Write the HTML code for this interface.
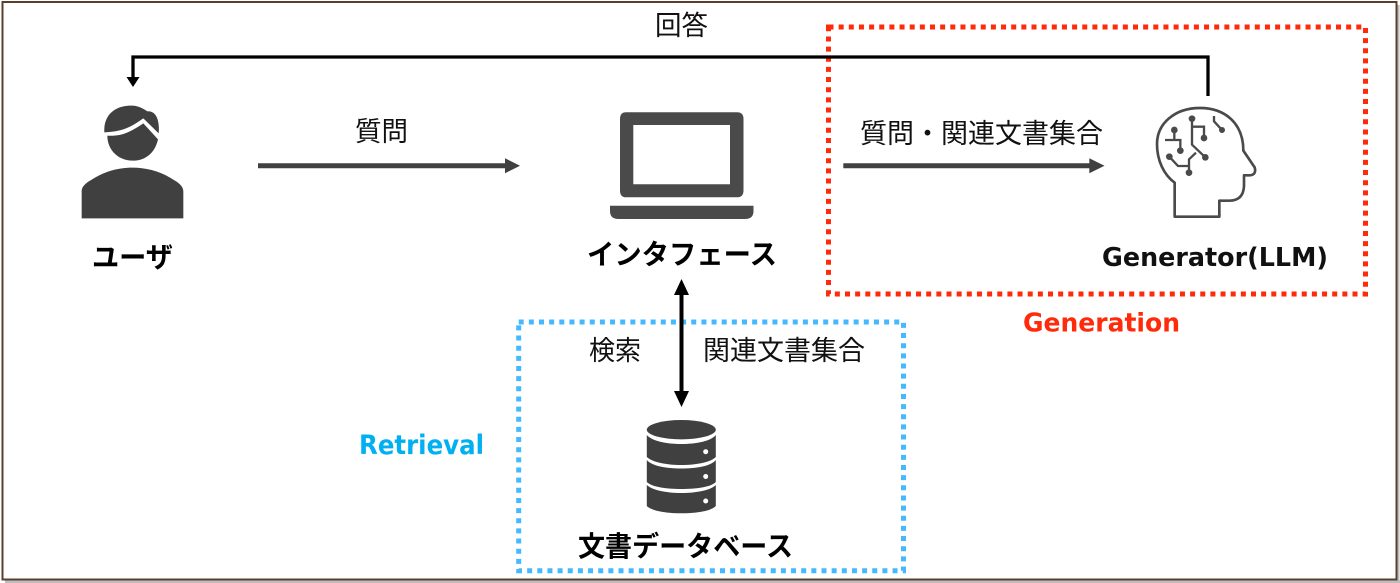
<!DOCTYPE html>
<html><head><meta charset="utf-8"><style>
html,body{margin:0;padding:0;background:#fff}
svg{display:block}
text{font-family:"Liberation Sans","Noto Sans CJK JP",sans-serif;fill:#111}
.b{font-weight:700;fill:#000}
.l{font-family:"DejaVu Sans","Noto Sans CJK JP",sans-serif;font-weight:700}
</style></head><body>
<svg width="1400" height="583" viewBox="0 0 1400 583" xmlns="http://www.w3.org/2000/svg">
<rect width="1400" height="583" fill="#fff"/>
<path d="M1398 5V583M5 581.500H1400" stroke="#bdbdbd" stroke-width="3" fill="none"/>
<rect x="2.500" y="2" width="1394" height="577.500" fill="#fff" stroke="#5a3f2c" stroke-width="2"/>

<rect x="828.500" y="27" width="537" height="267" fill="none" stroke="#ff2a0a" stroke-width="5" stroke-dasharray="5 5.150"/>
<rect x="518.700" y="322" width="384.800" height="248.700" fill="none" stroke="#45b9ff" stroke-width="5" stroke-dasharray="5 5.150"/>

<!-- connectors -->
<path d="M1208 96V57H133V78" fill="none" stroke="#000" stroke-width="3.300"/>
<path d="M126.500 77H139.500L133 87Z" fill="#000"/>
<path d="M258 165.700H506" stroke="#404040" stroke-width="5"/>
<path d="M505 158.200L520 165.700L505 173.200Z" fill="#404040"/>
<path d="M843.300 165.700H1090" stroke="#404040" stroke-width="5"/>
<path d="M1089.300 158.200L1104.500 165.700L1089.300 173.200Z" fill="#404040"/>
<path d="M681.500 290V397" stroke="#000" stroke-width="4"/>
<path d="M674 295L681.500 279L689 295ZM674 391L681.500 407L689 391Z" fill="#000"/>

<!-- user -->
<g transform="translate(60 40) scale(.33333)" fill="#404040">
<path d="M133 277C130 225 165 195 218 197C240 198 255 210 262 214C285 212 300 235 296 280L250 235C220 255 195 275 133 277Z"/>
<path d="M142 287C190 290 220 270 250 250L294 298C285 340 255 362 218 362C175 362 142 330 142 287Z"/>
<path d="M65 535V455C65 435 85 425 105 413C140 392 180 383 218 383C255 383 295 392 330 413C350 425 370 435 370 455V535Z"/>
</g>

<!-- laptop -->
<path fill-rule="evenodd" fill="#4a4a4a" d="M626 112.300H737Q743.500 112.300 743.500 119V190.500Q743.500 197.300 737 197.300H626Q620 197.300 620 190.500V119Q620 112.300 626 112.300ZM633.300 125V184.300H730V125Z"/>
<path fill="#4a4a4a" d="M610 205.700H753.500V211Q753.500 219 745 219H618.500Q610 219 610 211Z"/>

<!-- brain head -->
<g transform="translate(1090 80) scale(.33333)">
<path d="M254 410V308C222 285 201 242 201 192C201 130 255 84 330 84C405 84 460 130 460 212L494 262Q500 284 480 286H462V318Q460 362 418 362H388V410Z" fill="none" stroke="#4a4a4a" stroke-width="8" stroke-linejoin="round"/>
<g fill="none" stroke="#4a4a4a" stroke-width="7">
<path d="M253 150V180M225 180H271V212"/>
<path d="M306 116V194L346 232M306 140H342V174"/>
<path d="M372 108V124L396 150"/>
<path d="M238 230L264 258H296M318 218L297 238V278"/>
</g>
<g fill="#4a4a4a">
<circle cx="253" cy="150" r="10"/><circle cx="271" cy="212" r="10"/><circle cx="306" cy="116" r="10"/>
<circle cx="342" cy="174" r="10"/><circle cx="396" cy="150" r="9"/><circle cx="346" cy="232" r="10"/>
<circle cx="238" cy="230" r="10"/><circle cx="297" cy="278" r="10"/>
</g>
</g>

<!-- database -->
<g fill="#404040">
<ellipse cx="681.300" cy="429.700" rx="34.500" ry="9.700"/>
<path d="M646.800 435C652 441 666 444 681.300 444C697 444 711 441 715.800 435V457C711 462 697 465 681.300 465C666 465 652 462 646.800 457Z"/>
<path d="M646.800 460C652 466 666 468.500 681.300 468.500C697 468.500 711 466 715.800 460V482C711 487 697 489 681.300 489C666 489 652 487 646.800 482Z"/>
<path d="M646.800 485C652 490 666 493 681.300 493C697 493 711 490 715.800 485V506C711 511 697 513.300 681.300 513.300C666 513.300 652 511 646.800 506Z"/>
</g>
<g fill="#fff"><circle cx="705.700" cy="451.700" r="2.500"/><circle cx="705.700" cy="476.500" r="2.500"/><circle cx="705.700" cy="501" r="2.500"/></g>

<!-- labels -->
<g font-size="27">
<text x="655" y="35" textLength="53" lengthAdjust="spacingAndGlyphs">回答</text>
<text x="355" y="141" textLength="53" lengthAdjust="spacingAndGlyphs">質問</text>
<text x="860" y="143" textLength="243" lengthAdjust="spacingAndGlyphs">質問・関連文書集合</text>
<text x="589" y="360" textLength="52" lengthAdjust="spacingAndGlyphs">検索</text>
<text x="703" y="360" textLength="162" lengthAdjust="spacingAndGlyphs">関連文書集合</text>
</g>
<g font-size="28">
<text class="b" x="92" y="267" textLength="81" lengthAdjust="spacingAndGlyphs">ユーザ</text>
<text class="b" x="587" y="264" textLength="190" lengthAdjust="spacingAndGlyphs">インタフェース</text>
<text class="b" x="578" y="556" textLength="215" lengthAdjust="spacingAndGlyphs">文書データベース</text>
</g>
<text class="l" x="1102" y="266" font-size="26" textLength="226" lengthAdjust="spacingAndGlyphs" style="fill:#111">Generator(LLM)</text>
<text class="l" x="1023" y="331.700" font-size="26" textLength="157" lengthAdjust="spacingAndGlyphs" style="fill:#ff2a0a">Generation</text>
<text class="l" x="359" y="454" font-size="27" textLength="125" lengthAdjust="spacingAndGlyphs" style="fill:#00b0f0">Retrieval</text>
</svg>
</body></html>
